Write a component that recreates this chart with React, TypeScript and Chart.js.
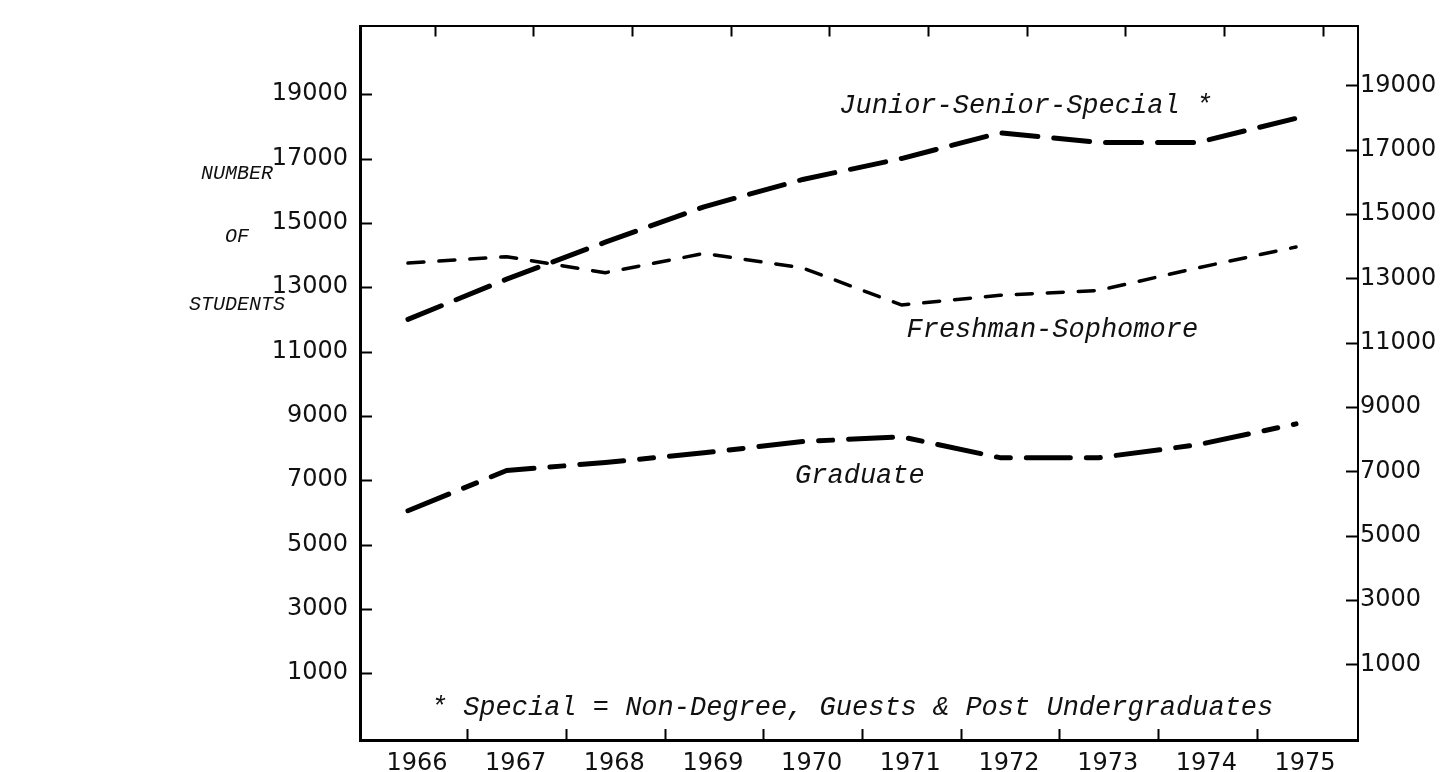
import React, { useEffect, useRef } from "react";
import { Chart, registerables } from "chart.js";

Chart.register(...registerables);

// ---- data ----
const years = [1966, 1967, 1968, 1969, 1970, 1971, 1972, 1973, 1974, 1975];
const juniorSeniorSpecial = [12000, 13250, 14400, 15500, 16350, 17000, 17800, 17500, 17500, 18250];
const freshmanSophomore = [13750, 13950, 13450, 14050, 13600, 12450, 12750, 12900, 13600, 14250];
const graduate = [6050, 7300, 7550, 7850, 8200, 8350, 7700, 7700, 8100, 8750];
const yTickValues = [19000, 17000, 15000, 13000, 11000, 9000, 7000, 5000, 3000, 1000];

const leftTitle = ["NUMBER", "OF", "STUDENTS"];
const seriesLabels = ["Junior-Senior-Special *", "Freshman-Sophomore", "Graduate"];
const footnote = "* Special = Non-Degree, Guests & Post Undergraduates";

// ---- axis ranges ----
const X_MIN = 1965.514;
const X_MAX = 1975.628;
const LEFT_MIN = -1078;
const LEFT_MAX = 21109;
const RIGHT_MIN = -1353;
const RIGHT_MAX = 20834;

const INK = "#111";
const NUM_FONT = { family: "'DejaVu Sans', sans-serif", size: 24 };
const TYPE_FONT = "italic 27px 'Liberation Mono', monospace";
const TITLE_FONT = "italic 20px 'Liberation Mono', monospace";

const toPoints = (arr: number[]) => years.map((x, i) => ({ x, y: arr[i] }));

const decorations = {
  id: "decorations",
  afterDraw(chart: any) {
    const { ctx, chartArea: a, scales } = chart;
    const x = scales.x;
    const y = scales.y;
    const y1 = scales.y1;
    ctx.save();
    ctx.strokeStyle = "#000";
    ctx.lineWidth = 2;
    ctx.beginPath();
    // inward tick marks, left & right
    yTickValues.forEach((v) => {
      const pl = Math.round(y.getPixelForValue(v)) + 0.5;
      ctx.moveTo(a.left, pl);
      ctx.lineTo(a.left + 12, pl);
      const pr = Math.round(y1.getPixelForValue(v)) + 0.5;
      ctx.moveTo(a.right - 12, pr);
      ctx.lineTo(a.right, pr);
    });
    // inward tick marks, bottom (between years) and top
    years.slice(0, -1).forEach((yr) => {
      const px = Math.round(x.getPixelForValue(yr + 0.6)) + 0.5;
      ctx.moveTo(px, a.bottom);
      ctx.lineTo(px, a.bottom - 11);
    });
    years.forEach((yr) => {
      const px = Math.round(x.getPixelForValue(yr + 0.27)) + 0.5;
      ctx.moveTo(px, a.top);
      ctx.lineTo(px, a.top + 10);
    });
    ctx.stroke();

    // typed labels
    ctx.fillStyle = INK;
    ctx.textAlign = "center";
    ctx.textBaseline = "alphabetic";
    ctx.font = TYPE_FONT;
    ctx.fillText(seriesLabels[0], x.getPixelForValue(1972.26), y.getPixelForValue(18420));
    ctx.fillText(seriesLabels[1], x.getPixelForValue(1972.53), y.getPixelForValue(11450));
    ctx.fillText(seriesLabels[2], x.getPixelForValue(1970.58), y.getPixelForValue(6900));
    ctx.fillText(footnote, x.getPixelForValue(1970.5), y.getPixelForValue(-310));

    // left title
    ctx.font = TITLE_FONT;
    const titleValues = [16350, 14400, 12300];
    leftTitle.forEach((t, i) => {
      ctx.fillText(t, 237, y.getPixelForValue(titleValues[i]));
    });
    ctx.restore();
  },
};

export default function App() {
  const ref = useRef<HTMLCanvasElement>(null);

  useEffect(() => {
    const line = (data: number[], width: number, dash: number[]) => ({
      data: toPoints(data),
      borderColor: "#000",
      backgroundColor: "#000",
      borderWidth: width,
      borderDash: dash,
      borderCapStyle: "round" as const,
      borderJoinStyle: "round" as const,
      pointRadius: 0,
      tension: 0,
      fill: false,
      xAxisID: "x",
      yAxisID: "y",
    });

    const chart = new Chart(ref.current as HTMLCanvasElement, {
      type: "line",
      data: {
        datasets: [
          { label: seriesLabels[0], ...line(juniorSeniorSpecial, 5, [36, 16]) },
          { label: seriesLabels[1], ...line(freshmanSophomore, 3.5, [16, 15]) },
          { label: seriesLabels[2], ...line(graduate, 5, [44, 16, 14, 16]) },
        ],
      },
      options: {
        responsive: false,
        animation: false,
        devicePixelRatio: 1,
        layout: { padding: 0 },
        plugins: {
          legend: { display: false },
          tooltip: { enabled: false },
          title: { display: false },
        },
        events: [],
        scales: {
          x: {
            type: "linear",
            position: "bottom",
            min: X_MIN,
            max: X_MAX,
            afterBuildTicks: (s: any) => {
              s.ticks = years.map((v) => ({ value: v }));
            },
            afterFit: (s: any) => {
              s.height = 32;
            },
            ticks: {
              callback: (v: any) => String(v),
              labelOffset: 9,
              padding: 9,
              maxRotation: 0,
              autoSkip: false,
              color: INK,
              font: NUM_FONT,
            },
            grid: { display: false, drawTicks: false },
            border: { display: true, width: 3, color: "#000" },
          },
          x2: {
            type: "linear",
            position: "top",
            min: X_MIN,
            max: X_MAX,
            afterFit: (s: any) => {
              s.height = 14;
            },
            ticks: { display: false },
            grid: { display: false, drawTicks: false },
            border: { display: true, width: 2, color: "#000" },
          },
          y: {
            type: "linear",
            position: "left",
            min: LEFT_MIN,
            max: LEFT_MAX,
            afterBuildTicks: (s: any) => {
              s.ticks = yTickValues.map((v) => ({ value: v }));
            },
            afterFit: (s: any) => {
              s.width = 360;
            },
            ticks: {
              callback: (v: any) => String(v),
              padding: 12,
              color: INK,
              font: NUM_FONT,
            },
            grid: { display: false, drawTicks: false },
            border: { display: true, width: 3, color: "#000" },
          },
          y1: {
            type: "linear",
            position: "right",
            min: RIGHT_MIN,
            max: RIGHT_MAX,
            afterBuildTicks: (s: any) => {
              s.ticks = yTickValues.map((v) => ({ value: v }));
            },
            afterFit: (s: any) => {
              s.width = 82;
            },
            ticks: {
              callback: (v: any) => String(v),
              padding: 2,
              color: INK,
              font: NUM_FONT,
            },
            grid: { display: false, drawTicks: false },
            border: { display: true, width: 2, color: "#000" },
          },
        },
      },
      plugins: [decorations],
    } as any);

    return () => chart.destroy();
  }, []);

  return (
    <div
      style={{
        position: "absolute",
        left: 0,
        top: 0,
        width: 1440,
        height: 772,
        background: "#fff",
      }}
    >
      <canvas
        ref={ref}
        width={1440}
        height={772}
        style={{ display: "block", width: 1440, height: 772 }}
      />
    </div>
  );
}
